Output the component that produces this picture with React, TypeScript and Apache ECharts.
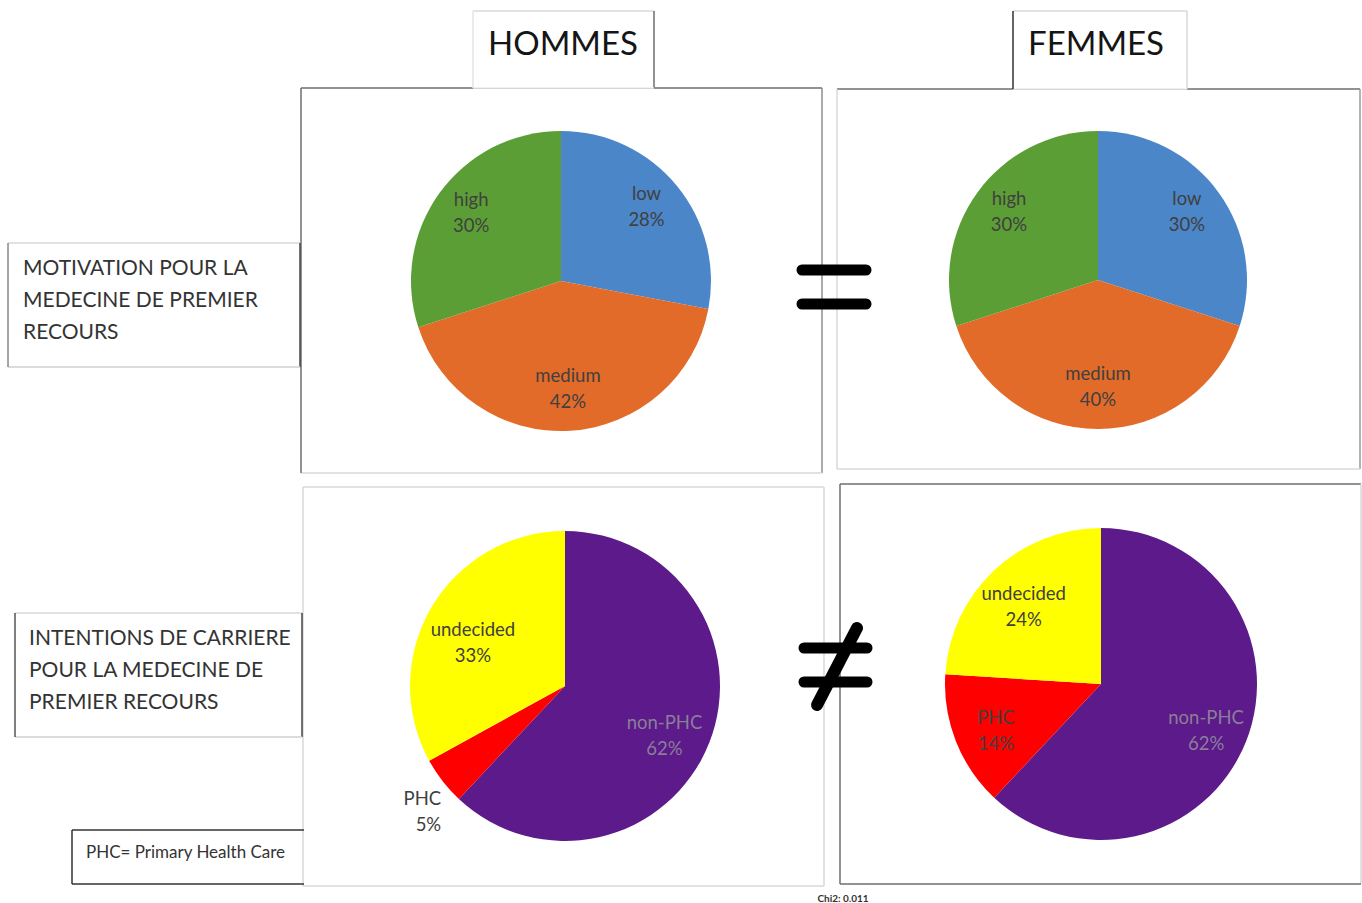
import React, { useEffect, useRef } from 'react';
import * as echarts from 'echarts';

// ---- data ----
const motivationCategories = ['low', 'medium', 'high'];
const motivationHommes = [28, 42, 30];
const motivationFemmes = [30, 40, 30];
const careerCategories = ['non-PHC', 'PHC', 'undecided'];
const careerHommes = [62, 5, 33];
const careerFemmes = [62, 14, 24];
const columnTitles = ['HOMMES', 'FEMMES'];
const rowTitles = [
  'MOTIVATION POUR LA\nMEDECINE DE PREMIER\nRECOURS',
  'INTENTIONS DE CARRIERE\nPOUR LA MEDECINE DE\nPREMIER RECOURS',
];
const noteText = 'PHC= Primary Health Care';
const chiText = 'Chi2: 0.011';

// ---- styles ----
const motivationColors = ['#4a86c8', '#e36b29', '#5c9e36'];
const careerColors = ['#5c1a8b', '#ff0000', '#ffff00'];
const careerLabelColors = ['#8a7f98', '#404040', '#404040'];
const motivationLabelColors = ['#404040', '#404040', '#404040'];
const FONT = 'Lato, "Open Sans", sans-serif';
const labelText = {
  color: '#404040',
  fontSize: 18.5,
  lineHeight: 26,
  fontFamily: FONT,
  formatter: '{b}\n{c}%',
};

function pies(
  cats: string[],
  vals: number[],
  colors: string[],
  labelColors: string[],
  center: number[],
  radius: number,
  labelRadius: number,
  labelShift: number[],
  outsideIdx: number = -1
) {
  const main = {
    type: 'pie',
    center,
    radius,
    silent: true,
    startAngle: 90,
    clockwise: true,
    avoidLabelOverlap: false,
    label: { show: false },
    labelLine: { show: false },
    itemStyle: { borderWidth: 0 },
    data: cats.map((n, i) => {
      const d: any = { name: n, value: vals[i], itemStyle: { color: colors[i] } };
      if (i === outsideIdx) {
        d.label = { show: true, position: 'outside', ...labelText, offset: [10, 25] };
        d.labelLine = { show: false, length: 8, length2: 0 };
      }
      return d;
    }),
  };
  const labels = {
    type: 'pie',
    center,
    radius: labelRadius * 2,
    silent: true,
    startAngle: 90,
    clockwise: true,
    avoidLabelOverlap: false,
    itemStyle: { color: 'rgba(0,0,0,0)', borderWidth: 0 },
    label: { show: true, position: 'inside', ...labelText, offset: labelShift },
    labelLine: { show: false },
    z: 3,
    data: cats.map((n, i) => {
      const d: any = { name: n, value: vals[i], label: { color: labelColors[i] } };
      if (i === outsideIdx) d.label = { show: false };
      return d;
    }),
  };
  return [main, labels];
}

function box(x1: number, y1: number, x2: number, y2: number, c: (string | null)[]) {
  // c: [top, right, bottom, left]
  const out: any[] = [];
  const segs = [
    [x1, y1, x2, y1],
    [x2, y1, x2, y2],
    [x1, y2, x2, y2],
    [x1, y1, x1, y2],
  ];
  segs.forEach((s, i) => {
    if (c[i]) {
      out.push({
        type: 'line',
        shape: { x1: s[0], y1: s[1], x2: s[2], y2: s[3] },
        style: { stroke: c[i], lineWidth: 1.5 },
        silent: true,
      });
    }
  });
  return out;
}

function bar(x1: number, y1: number, x2: number, y2: number, w: number) {
  return {
    type: 'line',
    shape: { x1, y1, x2, y2 },
    style: { stroke: '#000', lineWidth: w, lineCap: 'round' },
    silent: true,
  };
}

export default function App() {
  const ref = useRef<HTMLDivElement>(null);
  useEffect(() => {
    if (!ref.current) return;
    const chart = echarts.init(ref.current, null, { renderer: 'svg' });
    const DARK = '#6e6e6e';
    const MID = '#8e8e8e';
    const LIGHT = '#d8d8d8';

    const graphics: any[] = [
      // panels
      ...box(301, 88, 822, 473, [DARK, MID, LIGHT, DARK]),
      ...box(837, 89, 1360, 469, [DARK, '#9a9a9a', LIGHT, LIGHT]),
      ...box(303, 487, 824, 886, [LIGHT, LIGHT, LIGHT, LIGHT]),
      ...box(840, 484, 1361, 884, [DARK, LIGHT, DARK, DARK]),
      // column title boxes
      {
        type: 'rect',
        shape: { x: 473, y: 11, width: 181, height: 77 },
        style: { fill: '#fff', stroke: null },
        silent: true,
      },
      ...box(473, 11, 654, 88, [LIGHT, DARK, '#ececec', '#e4e4e4']),
      {
        type: 'rect',
        shape: { x: 1013, y: 11, width: 174, height: 78 },
        style: { fill: '#fff', stroke: null },
        silent: true,
      },
      ...box(1013, 11, 1187, 89, [LIGHT, LIGHT, '#ececec', '#333']),
      {
        type: 'text',
        style: {
          text: columnTitles[0], x: 563, y: 42, align: 'center', verticalAlign: 'middle',
          fontSize: 33, fontFamily: FONT, fill: '#151515',
        },
        silent: true,
      },
      {
        type: 'text',
        style: {
          text: columnTitles[1], x: 1096, y: 42, align: 'center', verticalAlign: 'middle',
          fontSize: 33, fontFamily: FONT, fill: '#151515',
        },
        silent: true,
      },
      // row title boxes
      ...box(8, 243, 300, 367, [LIGHT, '#444', '#cfcfcf', '#888']),
      {
        type: 'text',
        style: {
          text: rowTitles[0], x: 23, y: 250, align: 'left', verticalAlign: 'top',
          fontSize: 21, lineHeight: 32, fontFamily: FONT, fill: '#333',
        },
        silent: true,
      },
      ...box(15, 613, 302, 737, [LIGHT, '#444', '#cfcfcf', '#555']),
      {
        type: 'text',
        style: {
          text: rowTitles[1], x: 29, y: 620, align: 'left', verticalAlign: 'top',
          fontSize: 21, lineHeight: 32, fontFamily: FONT, fill: '#333',
        },
        silent: true,
      },
      // note box
      ...box(72, 830, 304, 884, ['#333', null, '#333', '#333']),
      {
        type: 'text',
        style: {
          text: noteText, x: 86, y: 851, align: 'left', verticalAlign: 'middle',
          fontSize: 17, fontFamily: FONT, fill: '#333',
        },
        silent: true,
      },
      {
        type: 'text',
        style: {
          text: chiText, x: 843, y: 898, align: 'center', verticalAlign: 'middle',
          fontSize: 10, fontWeight: 'bold', fontFamily: FONT, fill: '#333',
        },
        silent: true,
      },
      // equal sign
      bar(802, 270, 866, 270, 11),
      bar(802, 304, 866, 304, 11),
      // not-equal sign
      bar(804, 648, 867, 648, 11),
      bar(804, 682, 867, 682, 11),
      bar(817, 705, 857, 628, 12),
    ];

    chart.setOption({
      animation: false,
      backgroundColor: '#ffffff',
      graphic: { elements: graphics },
      series: [
        ...pies(motivationCategories, motivationHommes, motivationColors, motivationLabelColors, [561, 281], 150, 108, [0, -4]),
        ...pies(motivationCategories, motivationFemmes, motivationColors, motivationLabelColors, [1098, 280], 149, 107, [0, -4]),
        ...pies(careerCategories, careerHommes, careerColors, careerLabelColors, [565, 686], 155, 104, [0, 10], 1),
        ...pies(careerCategories, careerFemmes, careerColors, careerLabelColors, [1101, 684], 156, 110, [0, 4]),
      ],
    });
    return () => chart.dispose();
  }, []);
  return (
    <div
      ref={ref}
      style={{ position: 'absolute', left: 0, top: 0, width: 1362, height: 903, background: '#fff' }}
    />
  );
}
